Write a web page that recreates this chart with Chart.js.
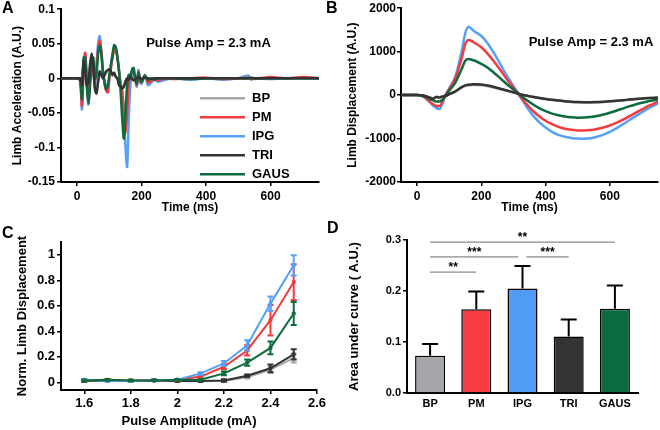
<!DOCTYPE html>
<html>
<head>
<meta charset="utf-8">
<script src="https://cdn.jsdelivr.net/npm/chart.js@4.4.1/dist/chart.umd.min.js"></script>
<style>
  body { margin: 0; background: #fff; width: 660px; height: 430px; position: relative; overflow: hidden;
         font-family: 'Liberation Sans', Arial, sans-serif; }
  canvas { position: absolute; }
  .panel { position: absolute; font-weight: bold; font-size: 16px; line-height: 16px; color: #000; }
</style>
</head>
<body>
<canvas id="chartA" width="330" height="215" style="left:0;top:0"></canvas>
<canvas id="chartB" width="330" height="215" style="left:330px;top:0"></canvas>
<canvas id="chartC" width="330" height="215" style="left:0;top:215px"></canvas>
<canvas id="chartD" width="330" height="215" style="left:330px;top:215px"></canvas>
<div class="panel" style="left:2px;top:0">A</div>
<div class="panel" style="left:326px;top:0">B</div>
<div class="panel" style="left:2px;top:225px">C</div>
<div class="panel" style="left:327px;top:220px">D</div>
<script>
// groups, in legend order
var names = ['BP', 'PM', 'IPG', 'TRI', 'GAUS'];
var colors = ['#a6a6a9', '#f23b3e', '#55a0f8', '#333333', '#0d6b3d'];

// A: limb acceleration (A.U.) vs time (ms)
var timeA = [-50, 0, 5, 10, 15, 20, 25, 30, 35, 40, 45, 50, 55, 60, 65, 70, 75, 80, 85, 90,
  95, 100, 105, 110, 115, 120, 125, 130, 135, 140, 145, 150, 155, 160, 165, 170, 175, 180, 185, 190,
  195, 200, 210, 220, 230, 240, 250, 275, 300, 350, 400, 450, 500, 530, 540, 550, 600, 650, 700, 750];
var accBP = [0, 0, 0, 0, -0.008, 0.02, 0.008, -0.008, -0.004, 0.016,
  0.03, 0.017, -0.012, -0.018, -0.004, 0.008, 0.004, 0, 0.004, 0.008,
  0.01, 0.011, 0.008, 0.004, 0.006, 0.002, 0, -0.008, -0.01, -0.012,
  -0.01, -0.004, 0, -0.002, 0.002, 0, -0.002, -0.002, 0, 0.002,
  0, 0, 0, 0, 0, 0, 0, 0, 0, 0,
  0, 0, 0, 0, 0, 0, 0, 0, 0, 0];
var accPM = [0, 0, 0, -0.004, -0.04, 0.012, 0.037, 0, -0.035, -0.005,
  0.025, 0.01, -0.005, 0.015, 0.04, 0.055, 0.04, 0.01, -0.008, -0.018,
  -0.02, 0, 0.015, 0.03, 0.04, 0.042, 0.03, 0.012, -0.008, -0.02,
  -0.05, -0.08, -0.05, -0.01, 0.005, 0.01, 0.008, 0, -0.01, 0.01,
  -0.004, -0.006, 0.004, -0.006, -0.004, 0, -0.003, 0, -0.001, 0,
  0.001, -0.001, 0, 0.001, 0, -0.001, 0.002, 0, 0.002, 0];
var accIPG = [0, 0, 0, -0.005, -0.045, 0.01, 0.035, -0.01, -0.038, 0,
  0.03, 0.012, -0.01, 0.02, 0.05, 0.061, 0.04, 0.01, -0.005, -0.015,
  -0.02, 0, 0.02, 0.035, 0.045, 0.043, 0.03, 0.01, -0.01, -0.02,
  -0.05, -0.1, -0.128, -0.06, -0.01, 0.008, 0.012, 0, -0.012, 0.012,
  -0.005, -0.008, 0.005, -0.01, -0.006, -0.002, -0.005, -0.002, 0, -0.002,
  0, -0.002, 0, 0.004, -0.002, 0, -0.001, 0, 0.001, 0];
var accTRI = [0, 0, 0, 0, -0.01, 0.025, 0.01, -0.01, -0.005, 0.02,
  0.036, 0.02, -0.015, -0.022, -0.005, 0.01, 0.005, 0, 0.005, 0.01,
  0.012, 0.013, 0.01, 0.005, 0.008, 0.002, 0, -0.01, -0.012, -0.015,
  -0.012, -0.005, 0, -0.002, 0.003, 0, -0.003, -0.002, 0, 0.002,
  0, -0.001, 0.001, 0, -0.001, 0, 0, 0, 0, 0,
  0, 0, 0, 0, 0, 0, 0, 0, 0, 0];
var accGAUS = [0, 0, 0, -0.005, -0.03, 0.03, 0.03, -0.01, -0.036, -0.01,
  0.02, 0.03, 0, 0.005, 0.035, 0.048, 0.035, 0.01, -0.005, -0.016,
  -0.01, 0.005, 0.02, 0.035, 0.048, 0.045, 0.03, 0.01, -0.02, -0.06,
  -0.087, -0.05, -0.01, 0.005, 0, 0.012, 0.015, 0, -0.008, 0.008,
  0, -0.005, 0.004, -0.003, 0, -0.002, 0, 0, 0, -0.001,
  0, 0, 0, 0, 0.001, 0, 0, 0, 0, 0];
var ticksAccY = [0.1, 0.05, 0, -0.05, -0.1, -0.15];
var ticksTime = [0, 200, 400, 600];

// B: limb displacement (A.U.) vs time (ms)
var timeB = [-50, 0, 20, 40, 50, 60, 70, 80, 90, 100, 120, 140, 150, 160, 170, 180, 200, 220, 240, 260,
  280, 300, 320, 340, 360, 380, 400, 420, 440, 460, 480, 500, 520, 540, 560, 580, 600, 620, 640, 660,
  680, 700, 720, 750];
var dispBP = [0, 0, -8, -50, -70, -40, -50, -25, -10, 15, 80, 175, 210, 225, 230, 232, 228, 205, 172, 135,
  98, 60, 22, -12, -42, -68, -92, -112, -130, -145, -157, -166, -172, -172, -168, -160, -150, -138, -125, -111,
  -97, -84, -73, -60];
var dispPM = [0, 0, -35, -150, -210, -250, -250, -140, 20, 140, 400, 880, 1170, 1270, 1245, 1200, 1100, 950, 770, 570,
  360, 170, -20, -200, -360, -485, -590, -670, -730, -775, -800, -812, -815, -805, -780, -745, -700, -640, -570, -490,
  -410, -330, -250, -150];
var dispIPG = [0, 0, -40, -170, -240, -300, -320, -180, 20, 150, 450, 1050, 1420, 1575, 1520, 1460, 1360, 1190, 960, 700,
  440, 210, -20, -260, -460, -620, -745, -845, -915, -960, -985, -1000, -1005, -995, -960, -910, -845, -765, -675, -580,
  -485, -395, -305, -195];
var dispTRI = [0, 0, -10, -60, -85, -45, -55, -30, -15, 20, 90, 190, 225, 240, 245, 250, 245, 220, 185, 145,
  105, 65, 22, -10, -40, -65, -88, -108, -125, -140, -152, -160, -165, -165, -160, -152, -142, -130, -117, -103,
  -90, -78, -68, -55];
var dispGAUS = [0, 0, -20, -90, -120, -150, -150, -100, 0, 100, 300, 620, 790, 830, 815, 790, 720, 630, 510, 380,
  250, 130, 10, -105, -210, -300, -370, -425, -465, -495, -512, -520, -518, -505, -480, -445, -405, -360, -310, -260,
  -215, -175, -140, -100];
var ticksDispY = [2000, 1000, 0, -1000, -2000];

// C: normalised displacement vs pulse amplitude (mA), mean and error
var ampC = [1.6, 1.7, 1.8, 1.9, 2.0, 2.1, 2.2, 2.3, 2.4, 2.5];
var normBP = [0.01, 0.01, 0.01, 0.015, 0.01, 0.01, 0.01, 0.04, 0.1, 0.19];
var normPM = [0.015, 0.02, 0.015, 0.015, 0.02, 0.045, 0.122, 0.25, 0.487, 0.786];
var normIPG = [0.02, 0.013, 0.01, 0.015, 0.02, 0.07, 0.148, 0.29, 0.617, 0.917];
var normTRI = [0.01, 0.015, 0.01, 0.015, 0.01, 0.01, 0.015, 0.052, 0.11, 0.22];
var normGAUS = [0.015, 0.02, 0.015, 0.015, 0.02, 0.02, 0.07, 0.155, 0.27, 0.54];
var errBP = [0.005, 0.005, 0.005, 0.005, 0.005, 0.005, 0.005, 0.01, 0.025, 0.035];
var errPM = [0.005, 0.005, 0.005, 0.005, 0.005, 0.01, 0.02, 0.04, 0.12, 0.14];
var errIPG = [0.005, 0.005, 0.005, 0.005, 0.005, 0.01, 0.02, 0.04, 0.055, 0.08];
var errTRI = [0.005, 0.005, 0.005, 0.005, 0.005, 0.005, 0.01, 0.01, 0.03, 0.04];
var errGAUS = [0.005, 0.005, 0.005, 0.005, 0.005, 0.005, 0.015, 0.025, 0.05, 0.09];
var ticksAmpX = [1.6, 1.8, 2, 2.2, 2.4, 2.6];
var ticksNormY = [0, 0.2, 0.4, 0.6, 0.8, 1];

// D: area under curve (A.U.), mean and upper error
var aucMean = [0.073, 0.164, 0.205, 0.111, 0.165];
var aucErr = [0.023, 0.035, 0.044, 0.033, 0.046];
var ticksAucY = [0, 0.1, 0.2, 0.3];
// significance: [from group, to group, stars, level]
var sigPairs = [[0, 4, '**', 0.296], [0, 2, '***', 0.267], [2, 3, '***', 0.267], [0, 1, '**', 0.237]];

Chart.defaults.font.family = "'Liberation Sans', Arial, Helvetica, sans-serif";
Chart.defaults.font.weight = 'bold';
Chart.defaults.color = '#000';
Chart.defaults.animation = false;

function linAxis(o) {
  return {
    type: 'linear', min: o.min, max: o.max,
    afterBuildTicks: function (s) { s.ticks = o.ticks.map(function (v) { return { value: v }; }); },
    afterFit: function (s) { if (o.width) s.width = o.width; if (o.height) s.height = o.height; },
    ticks: { autoSkip: false, maxRotation: 0, padding: o.pad, color: '#000',
      font: { size: o.tickSize, weight: 'bold' },
      callback: o.fmt || function (v) { return String(v); } },
    grid: { drawOnChartArea: false, drawTicks: true, tickLength: 4, color: '#000', lineWidth: 1.5 },
    border: { color: '#000', width: 2 },
    title: { display: !!o.title, text: o.title, color: '#000',
      font: { size: o.titleSize, weight: 'bold' }, padding: o.titlePad }
  };
}

function series(xs, ys, i, width, order) {
  return {
    label: names[i],
    data: xs.map(function (x, k) { return { x: x, y: ys[k] }; }),
    borderColor: colors[i], backgroundColor: colors[i],
    borderWidth: width, pointRadius: 0, tension: 0, order: order
  };
}

// "Pulse Amp" text and the line legend of panel A
var notePlugin = {
  id: 'note',
  afterDraw: function (chart, args, opts) {
    if (!opts.text) return;
    var ctx = chart.ctx, a = chart.chartArea;
    ctx.save();
    ctx.fillStyle = '#000';
    ctx.font = "bold 13px 'Liberation Sans', Arial, sans-serif";
    ctx.textAlign = 'center';
    ctx.textBaseline = 'middle';
    ctx.fillText(opts.text, a.left + opts.tx, a.top + opts.ty);
    if (opts.legend) {
      ctx.textAlign = 'left';
      names.forEach(function (n, i) {
        var y = a.top + 89 + i * 19;
        ctx.strokeStyle = colors[i];
        ctx.lineWidth = 2.5;
        ctx.beginPath();
        ctx.moveTo(a.left + 139, y);
        ctx.lineTo(a.left + 184, y);
        ctx.stroke();
        ctx.fillText(n, a.left + 191, y);
      });
    }
    ctx.restore();
  }
};

// error bars from dataset.errors, drawn with the chart's own scales
var errorPlugin = {
  id: 'errbars',
  afterDatasetDraw: function (chart, args, opts) {
    var ds = chart.data.datasets[args.index];
    if (!ds.errors) return;
    var ctx = chart.ctx, ys = chart.scales.y;
    ctx.save();
    ctx.strokeStyle = ds.errorColor || ds.borderColor;
    ctx.lineWidth = opts.width || 2;
    args.meta.data.forEach(function (el, k) {
      var v = ds.data[k].y !== undefined ? ds.data[k].y : ds.data[k];
      var top = ys.getPixelForValue(v + ds.errors[k]);
      var bot = opts.upperOnly ? ys.getPixelForValue(v) : ys.getPixelForValue(v - ds.errors[k]);
      var cap = opts.cap || 6;
      ctx.beginPath();
      ctx.moveTo(el.x, top); ctx.lineTo(el.x, bot);
      ctx.moveTo(el.x - cap / 2, top); ctx.lineTo(el.x + cap / 2, top);
      if (!opts.upperOnly) { ctx.moveTo(el.x - cap / 2, bot); ctx.lineTo(el.x + cap / 2, bot); }
      ctx.stroke();
    });
    ctx.restore();
  }
};

// significance brackets for panel D
var sigPlugin = {
  id: 'sig',
  afterDraw: function (chart) {
    var ctx = chart.ctx, xs = chart.scales.x, ys = chart.scales.y;
    ctx.save();
    ctx.font = "bold 12px 'Liberation Sans', Arial, sans-serif";
    ctx.textAlign = 'center';
    ctx.textBaseline = 'alphabetic';
    sigPairs.forEach(function (p) {
      var x1 = xs.getPixelForValue(p[0]), x2 = xs.getPixelForValue(p[1]);
      sigPairs.forEach(function (q) {
        if (q !== p && q[3] === p[3]) {
          if (q[0] === p[1]) x2 -= 4;
          if (q[1] === p[0]) x1 += 4;
        }
      });
      var y = ys.getPixelForValue(p[3]);
      ctx.strokeStyle = '#8a8a8a';
      ctx.lineWidth = 1.2;
      ctx.beginPath(); ctx.moveTo(x1, y); ctx.lineTo(x2, y); ctx.stroke();
      ctx.fillStyle = '#000';
      ctx.fillText(p[2], (x1 + x2) / 2, y - 1);
    });
    ctx.restore();
  }
};

var drawOrder = [4, 2, 3, 0, 1]; // BP bottom, TRI/GAUS on top

// Panel A
var accSets = [accBP, accPM, accIPG, accTRI, accGAUS];
new Chart(document.getElementById('chartA').getContext('2d'), {
  type: 'line',
  data: { datasets: accSets.map(function (s, i) {
    var d = series(timeA, s, i, 2.5, drawOrder[i]);
    d.tension = 0.3;
    return d;
  }) },
  plugins: [notePlugin],
  options: {
    responsive: false, animation: false,
    layout: { padding: { left: 0, right: 11, top: 7, bottom: 0 } },
    plugins: { legend: { display: false }, tooltip: { enabled: false },
      note: { text: 'Pulse Amp = 2.3 mA', tx: 147.5, ty: 34, legend: true } },
    scales: {
      x: linAxis({ min: -50, max: 750, ticks: ticksTime, height: 33, pad: 3, tickSize: 12,
        title: 'Time (ms)', titleSize: 12, titlePad: { top: 0, bottom: 0 } }),
      y: linAxis({ min: -0.15, max: 0.1, ticks: ticksAccY, width: 61, pad: 2, tickSize: 12,
        title: 'Limb Acceleration (A.U.)', titleSize: 12, titlePad: { top: 10, bottom: 0 } })
    }
  }
});

// Panel B
var dispSets = [dispBP, dispPM, dispIPG, dispTRI, dispGAUS];
new Chart(document.getElementById('chartB').getContext('2d'), {
  type: 'line',
  data: { datasets: dispSets.map(function (s, i) {
    var d = series(timeB, s, i, 2.5, drawOrder[i]);
    d.cubicInterpolationMode = 'monotone';
    return d;
  }) },
  plugins: [notePlugin],
  options: {
    responsive: false, animation: false,
    layout: { padding: { left: 0, right: 2, top: 7, bottom: 0 } },
    plugins: { legend: { display: false }, tooltip: { enabled: false },
      note: { text: 'Pulse Amp = 2.3 mA', tx: 190, ty: 34 } },
    scales: {
      x: linAxis({ min: -50, max: 750, ticks: ticksTime, height: 33, pad: 3, tickSize: 12,
        title: 'Time (ms)', titleSize: 12, titlePad: { top: 0, bottom: 0 } }),
      y: linAxis({ min: -2000, max: 2000, ticks: ticksDispY, width: 71, pad: 1, tickSize: 12,
        title: 'Limb Displacement (A.U.)', titleSize: 12, titlePad: { top: 15, bottom: 0 } })
    }
  }
});

// Panel C
var normSets = [normBP, normPM, normIPG, normTRI, normGAUS];
var errSets = [errBP, errPM, errIPG, errTRI, errGAUS];
var orderC = [4, 2, 1, 3, 0];
new Chart(document.getElementById('chartC').getContext('2d'), {
  type: 'line',
  data: { datasets: normSets.map(function (s, i) {
    var d = series(ampC, s, i, 2, orderC[i]);
    d.pointRadius = 2; d.pointStyle = 'rect'; d.pointBorderWidth = 1;
    d.errors = errSets[i];
    return d;
  }) },
  plugins: [errorPlugin],
  options: {
    responsive: false, animation: false,
    layout: { padding: { left: 0, right: 13, top: 27, bottom: 0 } },
    plugins: { legend: { display: false }, tooltip: { enabled: false }, errbars: { cap: 6, width: 2 } },
    scales: {
      x: linAxis({ min: 1.5, max: 2.6, ticks: ticksAmpX, height: 40, pad: 2, tickSize: 13,
        title: 'Pulse Amplitude (mA)', titleSize: 13, titlePad: { top: 0, bottom: 1 } }),
      y: linAxis({ min: -0.06, max: 1.1, ticks: ticksNormY, width: 61, pad: 2, tickSize: 13,
        title: 'Norm. Limb Displacement', titleSize: 13, titlePad: { top: 15, bottom: 0 } })
    }
  }
});

// Panel D
var yD = linAxis({ min: 0, max: 0.3, ticks: ticksAucY, width: 77, pad: 2, tickSize: 11,
  fmt: function (v) { return v.toFixed(1); },
  title: 'Area under curve ( A.U.)', titleSize: 13, titlePad: { top: 17, bottom: 0 } });
new Chart(document.getElementById('chartD').getContext('2d'), {
  type: 'bar',
  data: {
    labels: names,
    datasets: [{
      data: aucMean, errors: aucErr, errorColor: '#000',
      backgroundColor: ['#a7a7ab', '#f63c41', '#4f9bf6', '#333333', '#0b6a3f'],
      borderColor: '#000', borderWidth: 1.5,
      categoryPercentage: 1, barPercentage: 0.65
    }]
  },
  plugins: [errorPlugin, sigPlugin],
  options: {
    responsive: false, animation: false,
    layout: { padding: { left: 0, right: 22, top: 25, bottom: 0 } },
    plugins: { legend: { display: false }, tooltip: { enabled: false },
      errbars: { upperOnly: true, cap: 16, width: 2 } },
    scales: {
      x: {
        type: 'category',
        afterFit: function (s) { s.height = 37; },
        ticks: { padding: 4, color: '#000', font: { size: 11, weight: 'bold' } },
        grid: { display: false, drawTicks: false },
        border: { color: '#000', width: 2 }
      },
      y: yD
    }
  }
});
</script>
</body>
</html>
